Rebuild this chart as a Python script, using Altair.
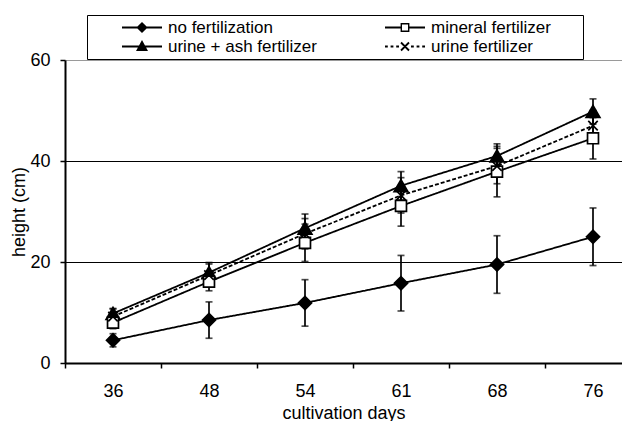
import math
import altair as alt
import pandas as pd

# ---------------- data ----------------
days = ["36", "48", "54", "61", "68", "76"]
# legend order (filled column by column: left column first)
series = ["no fertilization", "urine + ash fertilizer", "mineral fertilizer", "urine fertilizer"]

no_fert = [4.5, 8.5, 11.9, 15.8, 19.5, 25.0]
no_fert_err = [1.3, 3.6, 4.6, 5.5, 5.7, 5.7]
urine_ash = [9.8, 17.9, 26.7, 35.1, 41.0, 49.8]
urine_ash_err = [1.0, 2.0, 2.8, 2.8, 2.4, 2.5]
mineral = [8.0, 16.1, 23.8, 31.1, 37.9, 44.5]
mineral_err = [1.2, 1.8, 3.7, 4.0, 5.0, 4.1]
urine = [9.2, 17.4, 25.6, 33.2, 39.0, 47.0]
urine_err = [1.5, 2.2, 3.0, 3.5, 3.5, 3.0]

y_ticks = [0, 20, 40, 60]

values = [no_fert, urine_ash, mineral, urine]
errors = [no_fert_err, urine_ash_err, mineral_err, urine_err]

rows = []
for s, vals, errs in zip(series, values, errors):
    for i, (d, v, e) in enumerate(zip(days, vals, errs)):
        rows.append({"series": s, "day": d, "idx": i, "height": v, "err": e})
df = pd.DataFrame(rows)

# ---------------- layout / style ----------------
FONT = "Liberation Sans"
W, H = 557, 303
STEP = 96.0
x_domain = [-0.5, -0.5 + W / STEP]

label_expr = "[" + ",".join("'%s'" % d for d in days) + "][round(datum.value + 0.5)]"

x_axis = alt.Axis(
    values=[i - 0.5 for i in range(len(days))],
    labelExpr=label_expr,
    labelOffset=STEP / 2,
    tickSize=5,
    labelPadding=14,
    titlePadding=4,
    grid=False,
    labelFlush=False,
    labelOverlap=False,
    title="cultivation days",
)
y_axis = alt.Axis(
    values=y_ticks,
    tickSize=5,
    labelPadding=10,
    titlePadding=1,
    grid=True,
    gridColor={"condition": {"test": "datum.value == 60", "value": "#9a9a9a"}, "value": "black"},
    gridWidth=1.2,
    title="height (cm)",
)

x_enc = alt.X("idx:Q", scale=alt.Scale(domain=x_domain, nice=False, zero=False), axis=x_axis)
y_scale = alt.Scale(domain=[0, 60], nice=False)


def y_of(field):
    return alt.Y(field, scale=y_scale, axis=y_axis, title="height (cm)")


X_PATH = "M-1,-1L1,1M-1,1L1,-1"
# marker / line style per series (same order as `series`)
marker_shapes = ["diamond", "triangle-up", "square", X_PATH]
marker_fills = ["black", "black", "white", "transparent"]
marker_sizes = [170, 190, 120, 90]
dashes = [[1, 0], [1, 0], [1, 0], [4, 2]]

line_layers = []
point_layers = []
for s, shp, fl, sz, dash in zip(series, marker_shapes, marker_fills, marker_sizes, dashes):
    one = alt.Chart(df).transform_filter(alt.datum.series == s)
    line_layers.append(
        one.mark_line(color="black", strokeWidth=1.8, strokeDash=dash).encode(
            x=x_enc, y=y_of("height:Q")
        )
    )
    point_layers.append(
        one.mark_point(shape=shp, fill=fl, stroke="black", strokeWidth=1.7, size=sz, opacity=1).encode(
            x=x_enc, y=y_of("height:Q")
        )
    )

err_base = alt.Chart(df).transform_calculate(
    lo="datum.height - datum.err", hi="datum.height + datum.err"
)
rules = err_base.mark_rule(color="black", strokeWidth=1.7).encode(
    x=x_enc, y=y_of("lo:Q"), y2="hi:Q"
)
caps_hi = err_base.mark_tick(color="black", orient="horizontal", size=7, thickness=1.7).encode(
    x=x_enc, y=y_of("hi:Q")
)
caps_lo = err_base.mark_tick(color="black", orient="horizontal", size=7, thickness=1.7).encode(
    x=x_enc, y=y_of("lo:Q")
)


# ---------------- legend symbols (filled outlines only) ----------------
def poly(pts, clockwise=True):
    area = sum(pts[i][0] * pts[(i + 1) % len(pts)][1] - pts[(i + 1) % len(pts)][0] * pts[i][1]
               for i in range(len(pts)))
    if (area > 0) != clockwise:
        pts = pts[::-1]
    return "M" + "L".join("%.3f,%.3f" % p for p in pts) + "Z"


T = 0.045  # half thickness of the drawn line, in symbol units


def bar(x0, x1):
    return poly([(x0, -T), (x1, -T), (x1, T), (x0, T)])


def diag(a, sign):
    d = T / math.sqrt(2)
    if sign > 0:
        pts = [(-a + d, -a - d), (a + d, a - d), (a - d, a + d), (-a - d, -a + d)]
    else:
        pts = [(-a - d, a - d), (a - d, -a - d), (a + d, -a + d), (-a + d, a + d)]
    return poly(pts)


LEG_DIAMOND = bar(-1, 1) + poly([(0, -0.28), (0.28, 0), (0, 0.28), (-0.28, 0)])
LEG_TRI = bar(-1, 1) + poly([(0, -0.32), (0.3, 0.22), (-0.3, 0.22)])
LEG_SQUARE = (bar(-1, -0.22) + bar(0.22, 1)
              + poly([(-0.22, -0.22), (0.22, -0.22), (0.22, 0.22), (-0.22, 0.22)])
              + poly([(-0.15, -0.15), (0.15, -0.15), (0.15, 0.15), (-0.15, 0.15)], clockwise=False))
dash_spans = [(-1, -0.86), (-0.72, -0.58), (-0.44, -0.3), (0.3, 0.44), (0.58, 0.72), (0.86, 1)]
LEG_X = "".join(bar(a, b) for a, b in dash_spans) + diag(0.2, 1) + diag(0.2, -1)
legend_shapes = [LEG_DIAMOND, LEG_TRI, LEG_SQUARE, LEG_X]

# legend-only layer: its marks are fully transparent, only its legend shows
legend_layer = alt.Chart(df).mark_point(
    filled=True, color="black", size=1600, opacity=0
).encode(
    x=x_enc,
    y=y_of("height:Q"),
    shape=alt.Shape(
        "series:N",
        scale=alt.Scale(domain=series, range=legend_shapes),
        legend=alt.Legend(
            orient="none",
            legendX=22,
            legendY=-45,
            columns=2,
            gridAlign="all",
            columnPadding=36,
            padding=3,
            strokeColor="black",
            fillColor="white",
            labelFont=FONT,
            labelFontSize=17,
            labelColor="black",
            symbolSize=1600,
            symbolOpacity=1,
            symbolFillColor="black",
            symbolOffset=31,
            labelOffset=5,
            clipHeight=19,
            rowPadding=0,
            title=" ",
            titleOrient="right",
            titlePadding=29,
        ),
    ),
)

chart = (
    alt.layer(*line_layers, rules, caps_hi, caps_lo, *point_layers, legend_layer)
    .properties(
        width=W,
        height=H,
        autosize="none",
        padding={"left": 57, "top": 52, "right": 0, "bottom": 58},
    )
    .configure_view(stroke=None)
    .configure_axis(
        domainColor="black",
        domainWidth=2,
        tickColor="black",
        tickWidth=1.5,
        labelFont=FONT,
        labelFontSize=18,
        labelColor="black",
        titleFont=FONT,
        titleFontSize=18,
        titleFontWeight="normal",
        titleColor="black",
    )
)

chart.save("out.html", embed_options={"renderer": "svg", "actions": False})
